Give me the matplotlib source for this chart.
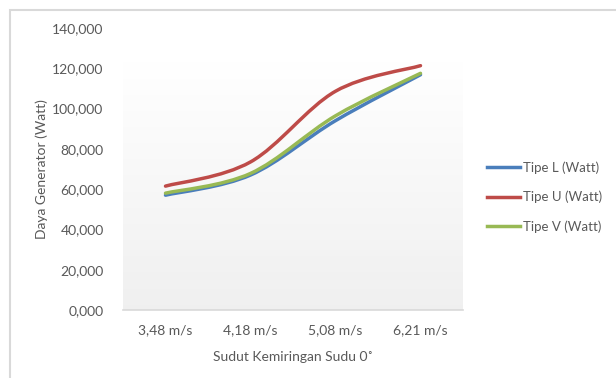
import numpy as np
import matplotlib.pyplot as plt
from matplotlib.path import Path
from matplotlib.patches import PathPatch, Rectangle
from matplotlib.lines import Line2D

# wind speed categories and generator power per blade type
categories = ['3,48 m/s', '4,18 m/s', '5,08 m/s', '6,21 m/s']
tipe_l = [57000, 67000, 94000, 116800]
tipe_u = [61500, 73500, 108600, 121300]
tipe_v = [58000, 67800, 96400, 117500]

series = [
    ('Tipe L (Watt)', tipe_l, '#4a7ebb'),
    ('Tipe U (Watt)', tipe_u, '#be4b48'),
    ('Tipe V (Watt)', tipe_v, '#98b954'),
]

TEXT = '#595959'
plt.rcParams['font.family'] = ['Lato', 'DejaVu Sans']


def smooth_path(x, y):
    """Catmull-Rom style bezier through the points (like a spreadsheet smoothed line)."""
    x = np.asarray(x, float)
    y = np.asarray(y, float)
    n = len(x)
    verts = [(x[0], y[0])]
    codes = [Path.MOVETO]
    for i in range(n - 1):
        p0 = i - 1 if i > 0 else i
        p3 = i + 2 if i + 2 < n else i + 1
        c1 = (x[i] + (x[i + 1] - x[p0]) / 6, y[i] + (y[i + 1] - y[p0]) / 6)
        c2 = (x[i + 1] - (x[p3] - x[i]) / 6, y[i + 1] - (y[p3] - y[i]) / 6)
        verts += [c1, c2, (x[i + 1], y[i + 1])]
        codes += [Path.CURVE4] * 3
    return Path(verts, codes)


fig = plt.figure(figsize=(6.16, 3.78), dpi=100)
fig.patches.append(Rectangle((10 / 616, -0.1), 1.2, 1 - 10 / 378 + 0.1,
                             transform=fig.transFigure, fill=False,
                             edgecolor='#d9d9d9', linewidth=1.5))

ax = fig.add_axes([123 / 616, 1 - 310 / 378, 340 / 616, 282 / 378])
xs = np.arange(len(categories))
ax.set_xlim(-0.5, len(categories) - 0.5)
ax.set_ylim(0, 140000)

# plot area gradient, white at the top fading to light gray
grad = np.linspace(0, 1, 256)[:, None]
cols = np.array([1.0, 1.0, 1.0]) * (1 - grad[..., None]) + \
    np.array([0.94, 0.94, 0.94]) * grad[..., None]
cols = cols.reshape(256, 1, 3)
ax.imshow(cols, extent=(-0.5, len(categories) - 0.5, 0, 123000),
          aspect='auto', zorder=0, origin='upper')

for label, vals, color in series:
    patch = PathPatch(smooth_path(xs, vals), facecolor='none',
                      edgecolor=color, linewidth=2.5, capstyle='round',
                      zorder=3)
    ax.add_patch(patch)

for s in ['top', 'right', 'left']:
    ax.spines[s].set_visible(False)
ax.spines['bottom'].set_color('#d9d9d9')
ax.spines['bottom'].set_linewidth(1.2)

ax.set_xticks(xs)
ax.set_xticklabels(categories)
yt = np.arange(0, 140001, 20000)
ax.set_yticks(yt)
ax.set_yticklabels([f'{v // 1000},000' for v in yt])
ax.tick_params(axis='both', length=0, labelsize=10, colors=TEXT)
ax.tick_params(axis='x', pad=10)
ax.tick_params(axis='y', pad=14)

ax.set_xlabel('Sudut Kemiringan Sudu 0˚', fontsize=10, color=TEXT, labelpad=11)
ax.set_ylabel('Daya Generator (Watt)', fontsize=10, color=TEXT, labelpad=3)

handles = [Line2D([], [], color=c, linewidth=2.5) for _, _, c in series]
fig.legend(handles, [s[0] for s in series], loc='center left',
           bbox_to_anchor=(487 / 616, 1 - 197 / 378), frameon=False,
           fontsize=9.5, labelcolor=TEXT, handlelength=2.5,
           handletextpad=0.2, labelspacing=1.3, borderpad=0,
           borderaxespad=0)

fig.savefig('out.png', dpi=100)
